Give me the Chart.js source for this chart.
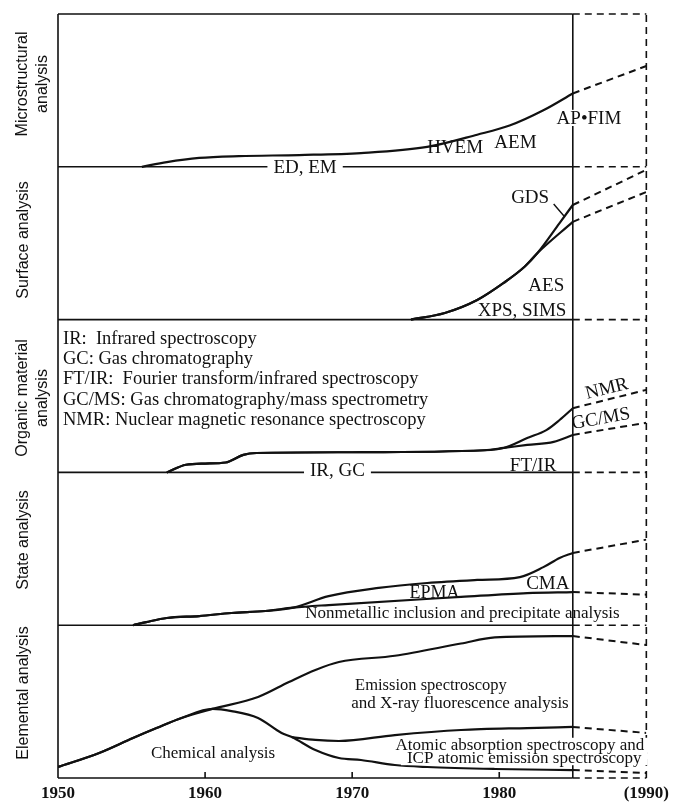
<!DOCTYPE html>
<html lang="en">
<head>
    <meta charset="UTF-8">
    <title>Analysis techniques 1950-1990</title>
    <script src="https://cdn.jsdelivr.net/npm/chart.js@4.4.0/dist/chart.umd.min.js"></script>
    <style>
        html, body { margin: 0; padding: 0; background: #fff; }
    </style>
</head>
<body>
<canvas id="myChart" width="674" height="804"></canvas>

<script>
// every panel is one unit high on the y scale, counted from the bottom
const panelNames = [
    ['Elemental analysis'],
    ['State analysis'],
    ['Organic material', 'analysis'],
    ['Surface analysis'],
    ['Microstructural', 'analysis']
];
const tickYears  = [1950, 1960, 1970, 1980, 1990];
const tickLabels = ['1950', '1960', '1970', '1980', '(1990)'];
const firstYear = 1950, nowYear = 1985, lastYear = 1990;   // solid up to 1985, dashed after

// Microstructural analysis (panel 4)
const microYears  = [1955.7, 1957.4, 1959.6, 1962.3, 1966.4, 1970.6, 1975.1, 1978.5, 1980.7, 1983.0, 1985, 1990];
const microValues = [0, 0.031, 0.058, 0.07, 0.077, 0.09, 0.13, 0.21, 0.27, 0.37, 0.48, 0.66];

// Surface analysis (panel 3)
const surfaceYears  = [1974.0, 1976.3, 1978.5, 1980.3, 1981.7, 1982.6];
const surfaceValues = [0, 0.043, 0.128, 0.24, 0.344, 0.436];
const gdsYears  = [1984.1, 1985, 1990];
const gdsValues = [0.632, 0.75, 0.98];
const aesYears  = [1985, 1990];
const aesValues = [0.64, 0.835];
const gdsPointerYears  = [1983.7, 1984.4];
const gdsPointerValues = [0.757, 0.678];

// Organic material analysis (panel 2)
const organicYears  = [1957.4, 1958.7, 1960.0, 1961.4, 1962.6, 1963.5, 1970, 1979, 1980.3];
const organicValues = [0, 0.05, 0.058, 0.065, 0.115, 0.127, 0.132, 0.145, 0.16];
const nmrYears  = [1981.9, 1983.2, 1984.1, 1985, 1990];
const nmrValues = [0.225, 0.277, 0.343, 0.42, 0.54];
const gcmsYears  = [1981.9, 1983.7, 1985, 1990];
const gcmsValues = [0.18, 0.2, 0.245, 0.325];

// State analysis (panel 1)
const stateYears  = [1955.1, 1956.0, 1957.4, 1959.6, 1961.8, 1964.1, 1966.0];
const stateValues = [0, 0.02, 0.047, 0.06, 0.08, 0.093, 0.115];
const cmaYears  = [1968.4, 1971.8, 1975.1, 1978.5, 1981.4, 1983.0, 1984.1, 1985, 1990];
const cmaValues = [0.19, 0.244, 0.276, 0.296, 0.315, 0.38, 0.44, 0.473, 0.56];
const inclusionYears  = [1968.4, 1977.4, 1981.9, 1985, 1990];
const inclusionValues = [0.132, 0.185, 0.21, 0.217, 0.2];

// Elemental analysis (panel 0)
const riseYears  = [1950, 1952.8, 1955.1, 1956.7, 1958.4, 1960.5];
const riseValues = [0.072, 0.164, 0.262, 0.327, 0.393, 0.452];
const emissionYears  = [1963.6, 1965.7, 1967.5, 1969.1, 1972.9, 1977.4, 1979.7, 1985, 1990];
const emissionValues = [0.53, 0.628, 0.707, 0.759, 0.80, 0.88, 0.92, 0.929, 0.87];
const chemicalYears  = [1961.8, 1963.6, 1965.2, 1965.9, 1967.5, 1969.1, 1970.6, 1972.9, 1975.1, 1979.7, 1985, 1990];
const chemicalValues = [0.438, 0.393, 0.295, 0.268, 0.183, 0.131, 0.118, 0.085, 0.072, 0.059, 0.052, 0.033];
const absorptionYears  = [1965.9, 1967.5, 1969.1, 1972.9, 1977.4, 1981.9, 1985, 1990];
const absorptionValues = [0.268, 0.249, 0.242, 0.281, 0.314, 0.327, 0.334, 0.295];

// text placed in the panels (year, y in panel units); size defaults to 17
const notes = [
    {text: 'ED, EM', x: 1966.8, y: 4.0, size: 19, knockout: true},
    {text: 'HVEM', x: 1977.0, y: 4.13, size: 19},
    {text: 'AEM', x: 1981.1, y: 4.162, size: 19},
    {text: 'AP\u2022FIM', x: 1986.1, y: 4.32, size: 19, knockout: true},
    {text: 'GDS', x: 1982.1, y: 3.80, size: 19},
    {text: 'AES', x: 1983.2, y: 3.226, size: 19},
    {text: 'XPS, SIMS', x: 1981.55, y: 3.063, size: 19},
    {text: 'IR:  Infrared spectroscopy', x: 1950.34, y: 2.88, align: 'left', size: 18.5},
    {text: 'GC: Gas chromatography', x: 1950.34, y: 2.749, align: 'left', size: 18.5},
    {text: 'FT/IR:  Fourier transform/infrared spectroscopy', x: 1950.34, y: 2.618, align: 'left', size: 18.5},
    {text: 'GC/MS: Gas chromatography/mass spectrometry', x: 1950.34, y: 2.48, align: 'left', size: 18.5},
    {text: 'NMR: Nuclear magnetic resonance spectroscopy', x: 1950.34, y: 2.35, align: 'left', size: 18.5},
    {text: 'IR, GC', x: 1969.0, y: 2.015, size: 19, knockout: true},
    {text: 'FT/IR', x: 1982.3, y: 2.048, size: 19},
    {text: 'NMR', x: 1987.3, y: 2.552, size: 19, rot: -14},
    {text: 'GC/MS', x: 1986.9, y: 2.356, size: 19, rot: -10},
    {text: 'EPMA', x: 1975.6, y: 1.217, size: 18},
    {text: 'CMA', x: 1983.3, y: 1.276, size: 19},
    {text: 'Nonmetallic inclusion and precipitate analysis', x: 1977.5, y: 1.08},
    {text: 'Emission spectroscopy', x: 1970.2, y: 0.609, align: 'left', size: 16.5},
    {text: 'and X-ray fluorescence analysis', x: 1969.93, y: 0.497, align: 'left'},
    {text: 'Chemical analysis', x: 1960.54, y: 0.164},
    {text: 'Atomic absorption spectroscopy and', x: 1981.4, y: 0.216, knockout: true},
    {text: 'ICP atomic emission spectroscopy', x: 1981.7, y: 0.131, knockout: true}
];
const titleLift = [0.556, 0.558, 0.487, 0.521, 0.542];

const ink = '#111';
const serif = '"Liberation Serif", "Times New Roman", serif';

// one solid dataset up to 1985 and one dashed dataset after it
let datasets = [];
function addCurve(years, values, panel, width) {
    let pts = years.map((yr, i) => ({x: yr, y: panel + values[i]}));
    let solid = pts.filter(p => p.x <= nowYear);
    let dashed = pts.filter(p => p.x >= nowYear);
    if (solid.length > 1) {
        datasets.push({data: solid, borderColor: ink, borderWidth: width || 2.2, pointRadius: 0,
            cubicInterpolationMode: 'monotone', fill: false});
    }
    if (dashed.length > 1) {
        datasets.push({data: dashed, borderColor: ink, borderWidth: 2, pointRadius: 0,
            borderDash: [7, 5], tension: 0, fill: false});
    }
}
addCurve(microYears, microValues, 4);
addCurve(surfaceYears.concat(gdsYears), surfaceValues.concat(gdsValues), 3);
addCurve(surfaceYears.concat(aesYears), surfaceValues.concat(aesValues), 3);
addCurve(gdsPointerYears, gdsPointerValues, 3, 1.4);
addCurve(organicYears.concat(nmrYears), organicValues.concat(nmrValues), 2);
addCurve(organicYears.concat(gcmsYears), organicValues.concat(gcmsValues), 2);
addCurve(stateYears.concat(cmaYears), stateValues.concat(cmaValues), 1);
addCurve(stateYears.concat(inclusionYears), stateValues.concat(inclusionValues), 1);
addCurve(riseYears.concat(emissionYears), riseValues.concat(emissionValues), 0);
addCurve(riseYears.concat(chemicalYears), riseValues.concat(chemicalValues), 0);
addCurve(absorptionYears, absorptionValues, 0);

const framePlugin = {
    id: 'frame',
    beforeDatasetsDraw(chart) {
        const {ctx, scales: {x, y}} = chart;
        const X = v => x.getPixelForValue(v), Y = v => y.getPixelForValue(v);
        const top = panelNames.length;
        ctx.save();
        ctx.strokeStyle = ink;
        ctx.lineWidth = 1.6;
        ctx.beginPath();
        for (let b = 0; b <= top; b++) {
            ctx.moveTo(X(firstYear), Y(b));
            ctx.lineTo(X(nowYear), Y(b));
        }
        ctx.moveTo(X(firstYear), Y(0));
        ctx.lineTo(X(firstYear), Y(top));
        ctx.moveTo(X(nowYear), Y(0));
        ctx.lineTo(X(nowYear), Y(top));
        tickYears.slice(1, -1).forEach(t => {
            ctx.moveTo(X(t), Y(0));
            ctx.lineTo(X(t), Y(0) - 6);
        });
        ctx.stroke();

        ctx.setLineDash([7, 5]);
        ctx.beginPath();
        for (let b = 0; b <= top; b++) {
            ctx.moveTo(X(nowYear), Y(b));
            ctx.lineTo(X(lastYear), Y(b));
        }
        ctx.moveTo(X(lastYear), Y(0));
        ctx.lineTo(X(lastYear), Y(top));
        ctx.stroke();
        ctx.restore();
    },
    afterDatasetsDraw(chart) {
        const {ctx, scales: {x, y}} = chart;
        const X = v => x.getPixelForValue(v), Y = v => y.getPixelForValue(v);
        ctx.save();
        ctx.textBaseline = 'middle';
        // pass 0 clears room for the knocked-out labels, pass 1 writes all text
        [0, 1].forEach(pass => {
            notes.forEach(n => {
                if (pass === 0 && !n.knockout) return;
                const align = n.align || 'center';
                const size = n.size || 17;
                ctx.save();
                ctx.font = size + 'px ' + serif;
                ctx.translate(X(n.x), Y(n.y));
                if (n.rot) ctx.rotate(n.rot * Math.PI / 180);
                ctx.textAlign = align;
                if (pass === 0) {
                    const w = ctx.measureText(n.text).width;
                    const left = align === 'left' ? 0 : -w / 2;
                    const h = size * 0.85;
                    ctx.fillStyle = '#fff';
                    ctx.fillRect(left - 6, -h / 2, w + 12, h);
                } else {
                    ctx.fillStyle = ink;
                    ctx.fillText(n.text, 0, 1);
                }
                ctx.restore();
            });
        });

        // panel titles, turned to read upwards
        ctx.font = '16px "Liberation Sans", Arial, sans-serif';
        ctx.textAlign = 'center';
        panelNames.forEach((lines, i) => {
            ctx.save();
            ctx.translate(0, Y(i + titleLift[i]));
            ctx.rotate(-Math.PI / 2);
            const xs = lines.length === 2 ? [23, 43] : [24];
            lines.forEach((ln, k) => {
                ctx.fillStyle = ink;
                ctx.fillText(ln, 0, xs[k]);
            });
            ctx.restore();
        });
        ctx.restore();
    }
};

new Chart(document.getElementById('myChart'), {
    type: 'line',
    data: {datasets: datasets},
    options: {
        responsive: false,
        animation: false,
        layout: {padding: {left: 58, right: 24, top: 14, bottom: 0}},
        plugins: {legend: {display: false}, tooltip: {enabled: false}},
        scales: {
            x: {
                type: 'linear', min: firstYear, max: lastYear,
                grid: {display: false, drawTicks: false},
                border: {display: false},
                afterBuildTicks: axis => { axis.ticks = tickYears.map(v => ({value: v})); },
                afterFit: axis => { axis.height = 26; },
                ticks: {
                    padding: 5, color: ink, maxRotation: 0, autoSkip: false,
                    font: {family: serif, size: 17, weight: 'bold'},
                    callback: v => tickLabels[tickYears.indexOf(v)]
                }
            },
            y: {type: 'linear', min: 0, max: panelNames.length, display: false}
        }
    },
    plugins: [framePlugin]
});
</script>
</body>
</html>
